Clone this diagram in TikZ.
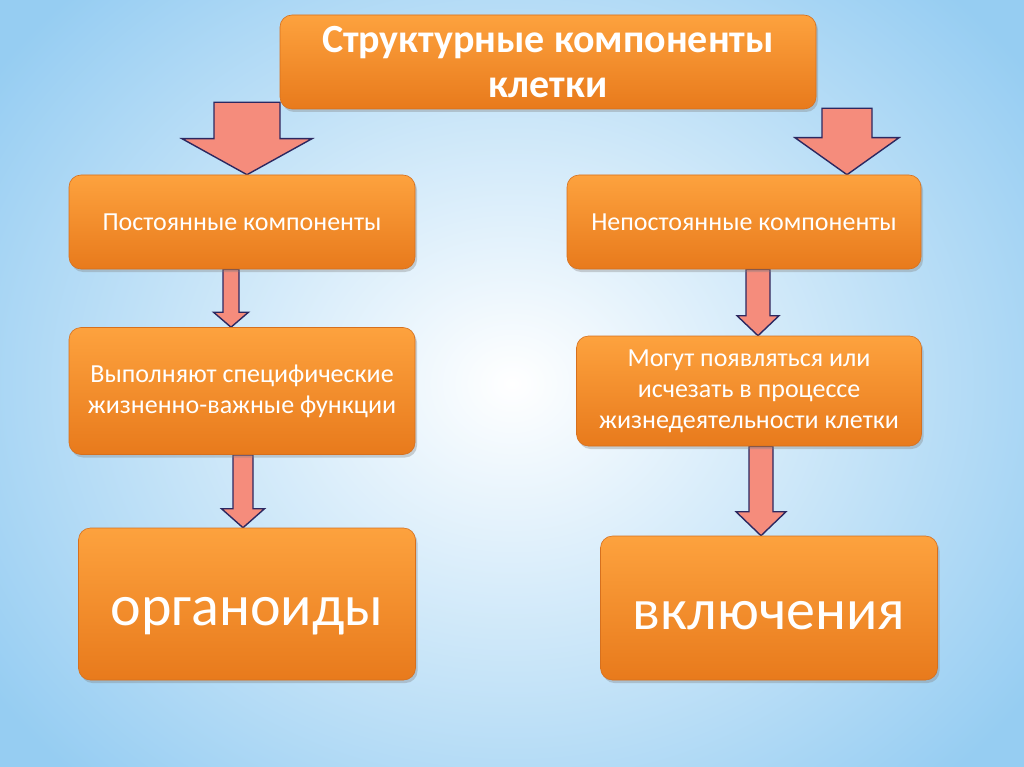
\documentclass[tikz,border=0pt]{standalone}
\usepackage{fontspec}
\setmainfont{Carlito}
\usetikzlibrary{calc, positioning, shadows}
\definecolor{BGs}{RGB}{150,205,242}
\definecolor{OR1}{RGB}{253,162,62}
\definecolor{OR2}{RGB}{232,122,28}
\definecolor{OB}{RGB}{214,112,30}
\definecolor{AR}{RGB}{245,140,124}
\definecolor{AE}{RGB}{44,40,96}
\pgfdeclarelayer{bg}
\pgfdeclarelayer{arr}
\pgfsetlayers{bg,arr,main}

% block arrow: tail, tip, shaft half width, head half width, head length
\newcommand\blkarrow[5]{%
  \draw[blk] let \p1=(#1), \p2=(#2) in
    (\x2-#3,\y1) -- (\x2+#3,\y1) -- (\x2+#3,\y2+#5) -- (\x2+#4,\y2+#5)
    -- (\x2,\y2) -- (\x2-#4,\y2+#5) -- (\x2-#3,\y2+#5) -- cycle;}

\begin{document}
\begin{tikzpicture}[x=1pt, y=-1pt,
  box/.style={rounded corners=12pt, draw=OB, line width=0.6pt,
              top color=OR1, bottom color=OR2, text=white, align=center,
              inner sep=0pt,
              drop shadow={opacity=0.35, shadow xshift=2pt, shadow yshift=-3pt}},
  blk/.style={fill=AR, draw=AE, line width=1.4pt, line join=miter},
  small/.style={font=\fontsize{26}{31}\selectfont},
  big/.style={font=\fontsize{58}{64}\selectfont, text height=42pt, text depth=0pt}
]
\useasboundingbox (0,0) rectangle (1024,767);
\begin{pgfonlayer}{bg}
  \begin{scope}
    \clip (0,0) rectangle (1024,767);
    \shade[inner color=white, outer color=BGs] (-120,-160) rectangle (1144,927);
  \end{scope}
\end{pgfonlayer}

\node[box, minimum width=536pt, minimum height=94pt,
      font=\fontsize{40}{45}\selectfont\bfseries] (title) at (548,62)
  {Структурные компоненты\\клетки};

\node[box, small, minimum width=346pt, minimum height=94pt] (post) at (242,222)
  {Постоянные компоненты};
\node[box, small, minimum width=354pt, minimum height=94pt] (nepost) at (744,222)
  {Непостоянные компоненты};

\node[box, small, minimum width=346pt, minimum height=127pt] (func) at (242,391)
  {Выполняют специфические\\жизненно-важные функции};
\node[box, small, minimum width=345pt, minimum height=110pt] (appear) at (749,391)
  {Могут появляться или\\исчезать в процессе\\жизнедеятельности клетки};

\node[box, big, minimum width=337pt, minimum height=152pt] (org) at (247,604)
  {органоиды};
\node[box, big, minimum width=337pt, minimum height=144pt] (incl) at (769,608)
  {включения};

\begin{pgfonlayer}{arr}
  \blkarrow{$(title.south west)+(0,-7)$}{$(post.north)+(5,0)$}{33pt}{65pt}{36pt}
  \blkarrow{$(title.south east)+(0,-1)$}{$(nepost.north)+(103,0)$}{25pt}{52pt}{37pt}
  \blkarrow{post.south}{$(func.north)+(-11,0)$}{8pt}{17.5pt}{15pt}
  \blkarrow{func.south}{$(org.north)+(-4,0)$}{10pt}{21.5pt}{19pt}
  \blkarrow{nepost.south}{$(appear.north)+(9,0)$}{12pt}{21pt}{20pt}
  \blkarrow{appear.south}{$(incl.north)+(-8,0)$}{12pt}{25pt}{24pt}
\end{pgfonlayer}
\end{tikzpicture}
\end{document}
